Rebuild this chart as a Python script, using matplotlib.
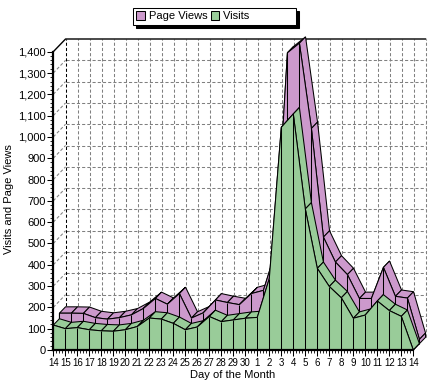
import matplotlib
matplotlib.use('Agg')
import matplotlib.pyplot as plt
from matplotlib.patches import Polygon, Patch
from matplotlib.ticker import MultipleLocator, FuncFormatter

# data (one value per day, 14th to 14th)
days = ['14', '15', '16', '17', '18', '19', '20', '21', '22', '23', '24', '25',
        '26', '27', '28', '29', '30', '1', '2', '3', '4', '5', '6', '7', '8',
        '9', '10', '11', '12', '13', '14']
visits = [117, 100, 105, 95, 90, 88, 95, 110, 150, 145, 125, 95, 108, 157, 133,
          141, 149, 153, 335, 1045, 1108, 662, 383, 298, 245, 149, 164, 230, 185,
          158, 0]
page_views = [143, 143, 142, 122, 115, 122, 135, 165, 212, 185, 235, 120, 145,
              205, 193, 183, 235, 250, 430, 1365, 1410, 1010, 500, 383, 324, 212,
              212, 358, 222, 214, 20]

pink = '#cc99cc'
green = '#99cc99'

plt.rcParams['font.family'] = ['Liberation Sans', 'DejaVu Sans']

fig = plt.figure(figsize=(4.32, 3.84), dpi=100)
# front plane of the chart, in pixels: x 53..413, y 350..52
ax = fig.add_axes([53.3 / 432, 34 / 384, 360 / 432, 298.3 / 384])
n = len(days)
ax.set_xlim(0, n - 1)
ax.set_ylim(0, 1400)

# depth of one series row (data units)
dx, dy = 0.51, 29.8
bx, by = 2 * dx, 2 * dy  # back wall offset

# back wall and left wall grid
grid = dict(color='#808080', lw=0.75, ls=(0, (3, 2)), clip_on=False, zorder=0)
for v in range(0, 1400, 100):
    ax.plot([bx, n - 1 + bx], [v + by, v + by], **grid)
    ax.plot([0, bx], [v, v + by], **grid)
for i in range(1, n):
    ax.plot([i + bx, i + bx], [by, 1400 + by], **grid)
ax.plot([bx, bx], [by, 1400 + by], color='black', lw=0.75, ls=(0, (3, 2)),
        clip_on=False, zorder=0)
ax.plot([0, bx, n - 1 + bx], [1400, 1400 + by, 1400 + by], color='black',
        lw=1, clip_on=False, zorder=0)


def draw_series(vals, k, color, z):
    ox, oy = k * dx, k * dy
    xs = [i + ox for i in range(len(vals))]
    ys = [v + oy for v in vals]
    edge = dict(fc=color, ec='black', lw=0.75, clip_on=False, joinstyle='miter')
    # top ribbon
    for i in range(len(vals) - 1):
        quad = [(xs[i], ys[i]), (xs[i + 1], ys[i + 1]),
                (xs[i + 1] + dx, ys[i + 1] + dy), (xs[i] + dx, ys[i] + dy)]
        ax.add_patch(Polygon(quad, zorder=z, **edge))
    # right end cap
    cap = [(xs[-1], oy), (xs[-1], ys[-1]), (xs[-1] + dx, ys[-1] + dy),
           (xs[-1] + dx, oy + dy)]
    ax.add_patch(Polygon(cap, zorder=z, **edge))
    # front face
    face = [(xs[0], oy)] + list(zip(xs, ys)) + [(xs[-1], oy)]
    ax.add_patch(Polygon(face, zorder=z + 0.1, **edge))
    ax.vlines(xs, oy, ys, color='black', lw=0.75, zorder=z + 0.2, clip_on=False)


draw_series(page_views, 1, pink, 2)
draw_series(visits, 0, green, 3)

# axes
for s in ['top', 'right']:
    ax.spines[s].set_visible(False)
for s in ['left', 'bottom']:
    ax.spines[s].set_linewidth(1.6)
    ax.spines[s].set_zorder(5)

ax.set_xticks(range(n))
ax.set_xticklabels(days)
ax.xaxis.set_minor_locator(MultipleLocator(0.25))
ax.yaxis.set_major_locator(MultipleLocator(100))
ax.yaxis.set_minor_locator(MultipleLocator(20))
ax.yaxis.set_major_formatter(FuncFormatter(lambda v, p: '{:,}'.format(int(v))))
ax.tick_params(axis='both', which='major', direction='out', length=4, width=0.75,
               pad=1.5)
ax.tick_params(axis='both', which='minor', direction='out', length=2, width=0.6)
ax.tick_params(axis='x', labelsize=7)
ax.tick_params(axis='y', labelsize=8)

ax.set_xlabel('Day of the Month', fontsize=8)
ax.xaxis.set_label_coords(0.498, -0.067)
ax.set_ylabel('Visits and Page Views', fontsize=8)
ax.yaxis.set_label_coords(-0.11, 0.506)

handles = [Patch(fc=pink, ec='black', lw=0.75), Patch(fc=green, ec='black', lw=0.75)]
leg = fig.legend(handles, ['Page Views', 'Visits' + ' ' * 14], ncol=2,
                 loc='upper left', bbox_to_anchor=(133 / 432, 1 - 8 / 384),
                 fancybox=False, edgecolor='black', framealpha=1,
                 shadow={'color': 'black', 'alpha': 1}, borderaxespad=0,
                 borderpad=0.3, handlelength=0.8, handleheight=0.8,
                 handletextpad=0.3, columnspacing=0.3, fontsize=8)
leg.get_frame().set_linewidth(0.75)

fig.savefig('out.png', dpi=100)
